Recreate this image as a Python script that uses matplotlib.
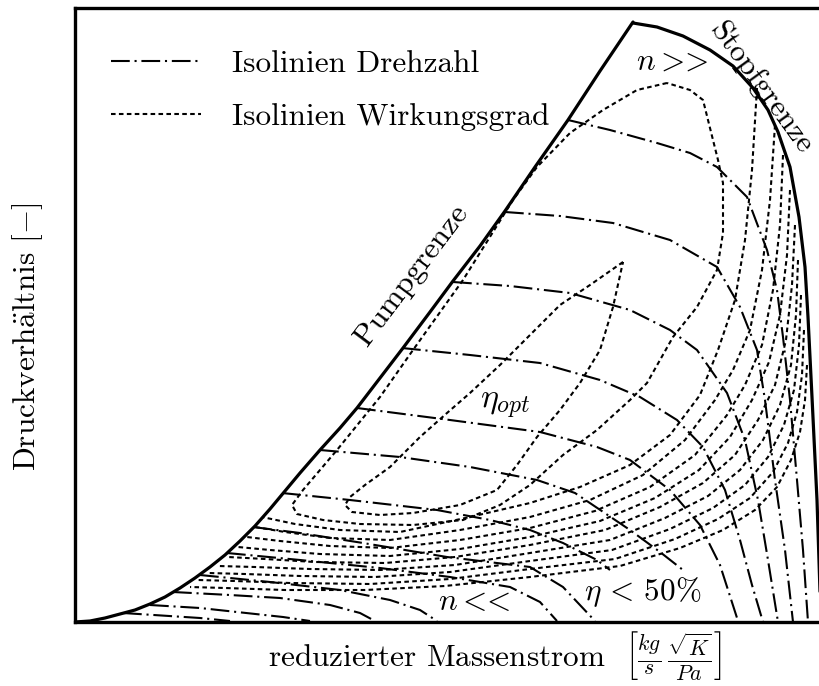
import matplotlib
matplotlib.use("Agg")
import matplotlib.pyplot as plt
from matplotlib.lines import Line2D

plt.rcParams['mathtext.fontset'] = 'cm'
plt.rcParams['font.family'] = 'serif'
plt.rcParams['font.serif'] = ['cmr10']
plt.rcParams['axes.unicode_minus'] = False

# Schematic compressor map; coordinates in drawing units (x: mass flow, y: pressure ratio, downward axis)
surge_line = [(75, 622), (90, 621), (105, 618), (120, 614), (135, 610), (150, 604), (165, 597),
              (180, 588), (195, 578), (210, 567), (225, 555), (240, 541), (255, 526), (270, 509),
              (285, 491), (300, 473), (320, 450), (340, 428), (357, 408), (380, 378), (403, 348),
              (430, 312), (453, 281), (480, 246), (505, 211), (535, 167), (568, 120), (600, 71),
              (633, 22)]
choke_line = [(633, 23), (657, 27), (683, 36), (710, 50), (733, 66), (753, 88), (768, 110),
              (778, 132), (790, 167), (799, 217), (805, 267), (808, 317), (812, 397), (817, 500),
              (821, 622)]

speed_lines = [
    [(568, 120), (610, 130), (657, 143), (690, 153), (717, 167), (747, 197), (767, 250), (777, 290),
     (783, 337), (790, 400), (797, 480), (803, 550), (808, 622)],
    [(505, 212), (560, 216), (613, 223), (670, 240), (717, 267), (740, 307), (757, 350), (765, 400),
     (775, 480), (785, 550), (793, 622)],
    [(453, 282), (510, 286), (570, 293), (630, 310), (670, 330), (697, 350), (727, 393), (745, 440),
     (758, 500), (768, 560), (778, 622)],
    [(402, 348), (470, 355), (540, 363), (600, 380), (640, 397), (677, 420), (703, 447), (725, 490),
     (740, 540), (752, 585), (763, 622)],
    [(357, 408), (450, 420), (540, 432), (597, 447), (630, 460), (670, 490), (700, 525), (720, 565),
     (738, 621)],
    [(320, 450), (400, 457), (470, 467), (537, 480), (575, 493), (630, 530), (660, 552), (683, 570)],
    [(282, 493), (350, 500), (437, 510), (490, 520), (530, 530), (563, 543), (597, 560), (610, 570)],
    [(253, 527), (300, 533), (363, 543), (447, 557), (530, 567), (563, 587), (595, 621)],
    [(227, 553), (300, 560), (380, 568), (450, 577), (510, 587), (540, 602), (557, 621)],
    [(200, 575), (270, 582), (340, 590), (390, 600), (420, 610), (437, 621)],
    [(173, 592), (230, 595), (280, 598), (330, 605), (360, 613), (375, 621)],
    [(150, 605), (200, 608), (283, 617), (310, 621)],
    [(123, 613), (200, 618), (230, 621)],
]

eff_lines = [
    # innermost loop (optimum)
    [(623, 262), (590, 285), (560, 305), (530, 335), (500, 365), (470, 393), (447, 413), (420, 437),
     (390, 467), (365, 485), (350, 497), (345, 505), (352, 512), (380, 515), (413, 513), (460, 505),
     (497, 490), (517, 465), (537, 437), (560, 410), (580, 383), (600, 350), (613, 307), (623, 262)],
    # second loop along the surge line
    [(667, 83), (637, 90), (603, 110), (570, 133), (537, 167), (513, 200), (463, 280), (413, 350),
     (380, 397), (367, 413), (337, 450), (303, 490), (292, 505), (297, 514), (323, 520), (360, 524),
     (413, 525), (463, 520), (500, 505), (530, 485), (563, 455), (597, 430), (630, 400), (647, 383),
     (673, 337), (697, 307), (717, 270), (723, 233), (723, 183), (718, 160), (703, 100), (690, 90),
     (667, 83)],
    [(757, 88), (752, 170), (745, 240), (735, 300), (718, 350), (700, 395), (670, 435), (630, 465),
     (580, 487), (530, 503), (470, 517), (400, 532), (340, 530), (295, 524), (262, 517)],
    [(775, 125), (770, 200), (762, 270), (750, 330), (733, 370), (715, 400), (685, 440), (643, 475),
     (590, 500), (530, 517), (460, 530), (390, 540), (330, 538), (285, 532), (255, 527)],
    [(783, 155), (780, 225), (773, 290), (762, 345), (745, 385), (727, 415), (695, 455), (650, 487),
     (595, 511), (530, 528), (460, 540), (390, 548), (330, 546), (280, 541), (247, 537)],
    [(790, 190), (787, 255), (780, 315), (769, 362), (752, 400), (730, 437), (699, 470), (655, 498),
     (600, 521), (530, 537), (460, 549), (390, 556), (320, 554), (270, 550), (238, 547)],
    [(795, 225), (792, 285), (786, 340), (775, 385), (758, 420), (735, 455), (703, 483), (660, 507),
     (605, 530), (530, 545), (455, 557), (385, 563), (315, 562), (265, 559), (228, 557)],
    [(798, 260), (796, 315), (791, 365), (780, 405), (763, 440), (740, 470), (708, 496), (665, 518),
     (610, 540), (530, 553), (455, 565), (380, 570), (310, 569), (255, 567), (218, 566)],
    [(801, 295), (799, 345), (794, 390), (784, 425), (768, 457), (745, 485), (713, 508), (670, 529),
     (612, 550), (530, 561), (450, 572), (375, 577), (300, 576), (245, 574), (208, 573)],
    [(804, 330), (802, 375), (797, 412), (788, 443), (773, 472), (750, 498), (718, 519), (675, 539),
     (615, 559), (530, 569), (450, 579), (370, 584), (290, 583), (235, 581), (198, 580)],
    [(807, 365), (805, 400), (800, 432), (791, 460), (777, 487), (755, 510), (723, 530), (680, 548),
     (620, 566), (530, 577), (445, 586), (365, 590), (285, 590), (225, 588), (190, 587)],
]

legend_labels = ['Isolinien Drehzahl', 'Isolinien Wirkungsgrad']

DASHDOT = (0, (9, 2.3, 1, 2.3))
DOTTED = (0, (2.2, 1.6))
FS = 22.5

W, H = 819, 686
fig = plt.figure(figsize=(W / 100, H / 100), dpi=100)
ax = fig.add_axes([75 / W, (H - 622) / H, (823 - 75) / W, (622 - 8) / H])
ax.set_xlim(75, 823)
ax.set_ylim(622, 8)
ax.set_xticks([])
ax.set_yticks([])
for side in ('left', 'top', 'bottom'):
    ax.spines[side].set_linewidth(2.4)
ax.spines['right'].set_visible(False)

for pts in eff_lines:
    xs, ys = zip(*pts)
    ax.plot(xs, ys, color='black', lw=1.5, linestyle=DOTTED)
for pts in speed_lines:
    xs, ys = zip(*pts)
    ax.plot(xs, ys, color='black', lw=1.5, linestyle=DASHDOT)

for pts in (surge_line, choke_line):
    xs, ys = zip(*pts)
    ax.plot(xs, ys, color='black', lw=2.3, solid_capstyle='round', solid_joinstyle='round')

ax.text(412, 275, 'Pumpgrenze', rotation=53, fontsize=FS, ha='center', va='center')
ax.text(761, 88, 'Stopfgrenze', rotation=-54, fontsize=FS - 0.5, ha='center', va='center')
ax.text(672, 62, r'$n >\hspace{-0.4}>$', fontsize=FS, ha='center', va='center')
ax.text(505, 405, r'$\eta_{opt}$', fontsize=FS + 2, ha='center', va='center')
ax.text(474, 602, r'$n <\hspace{-0.4}<$', fontsize=FS, ha='center', va='center')
ax.text(643, 592, r'$\eta\,<\,50\%$', fontsize=FS, ha='center', va='center')

handles = [Line2D([], [], color='black', lw=1.5, linestyle=DASHDOT),
           Line2D([], [], color='black', lw=1.5, linestyle=DOTTED)]
ax.legend(handles, legend_labels, loc='upper left', bbox_to_anchor=(0.01, 0.978), frameon=False,
          fontsize=FS, handlelength=2.9, handletextpad=1.0, labelspacing=0.8)

fig.text(495 / W, (H - 655) / H,
         r'reduzierter Massenstrom  $\left[\frac{kg}{s}\,\frac{\sqrt{K}}{Pa}\right]$',
         fontsize=FS, ha='center', va='center')
fig.text(28 / W, (H - 337) / H, r'Druckverh$\mathrm{\ddot{a}}$ltnis $[-]$', fontsize=FS,
         rotation=90, ha='center', va='center')

fig.savefig('out.png', dpi=100)
